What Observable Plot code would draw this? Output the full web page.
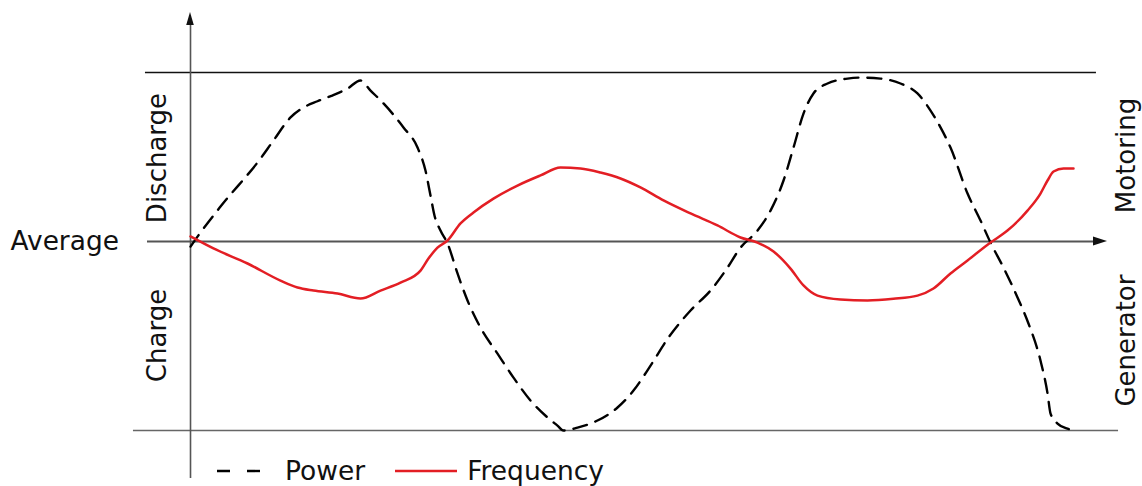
<!DOCTYPE html>
<html><head><meta charset="utf-8">
<script src="https://cdn.jsdelivr.net/npm/d3@7"></script>
<script src="https://cdn.jsdelivr.net/npm/@observablehq/plot@0.6"></script>
<style>
body{margin:0;background:#fff;font-family:"DejaVu Sans",sans-serif;}
#wrap{position:relative;width:1142px;height:486px;}
#legend{position:absolute;left:217px;top:456px;display:flex;align-items:center;font-size:26.5px;line-height:30px;color:#111;white-space:nowrap;}
#legend svg{display:block}
</style></head><body><div id="wrap"></div>
<script>
// time (0..100) and normalised level (average = 0, discharge limit = 1)
const powerT = [0,1.13,3.40,7.93,9.40,11.33,12.80,14.38,15.86,17.78,19.25,20.39,21.86,24.12,25.71,26.61,27.18,27.63,28.31,29.11,30.24,31.37,32.84,34.77,36.58,38.51,40.43,41.56,42.24,43.83,46.09,48.36,50.17,52.10,54.13,56.63,58.89,60.59,62.29,64.21,65.69,67.16,68.29,69.42,70.55,72.14,74.41,75.88,78.14,80.41,82.33,83.81,84.94,86.07,88.00,89.47,90.60,92.07,93.66,94.90,96.26,97.06,97.40,98.19,99.32,100];
const powerV = [-0.03,0.053,0.207,0.491,0.598,0.734,0.793,0.830,0.860,0.905,0.953,0.893,0.817,0.675,0.556,0.420,0.272,0.154,0.065,-0.012,-0.189,-0.349,-0.509,-0.663,-0.805,-0.941,-1.041,-1.089,-1.118,-1.101,-1.059,-0.982,-0.882,-0.734,-0.568,-0.408,-0.290,-0.172,-0.036,0.065,0.183,0.361,0.556,0.757,0.876,0.935,0.964,0.970,0.964,0.935,0.876,0.775,0.675,0.556,0.284,0.124,-0.006,-0.154,-0.331,-0.485,-0.704,-0.899,-1.018,-1.077,-1.107,-1.118];
const freqT = [0,2.60,6.46,10.19,12.12,13.93,16.65,19.25,21.52,23.78,26.05,26.95,27.97,29.11,30.58,32.05,34.31,37.03,39.64,41.90,44.17,46.43,48.70,50.96,53.57,56.63,59.68,62.29,64.21,66.03,67.95,69.42,71.01,73.61,76.67,79.61,82.33,84.14,86.07,88.00,90.60,92.52,94.79,96.26,97.06,97.74,98.87,100];
const freqV = [0.030,-0.041,-0.130,-0.231,-0.272,-0.290,-0.308,-0.337,-0.290,-0.243,-0.172,-0.101,-0.036,0.006,0.107,0.172,0.254,0.331,0.391,0.438,0.432,0.408,0.373,0.320,0.243,0.166,0.095,0.024,-0.006,-0.059,-0.160,-0.260,-0.320,-0.343,-0.349,-0.339,-0.320,-0.278,-0.189,-0.112,-0.006,0.065,0.183,0.284,0.361,0.414,0.432,0.432];

// guide lines: level, start, end
const guideNames = ["top", "average", "bottom"];
const guideLevel = [1, 0, -1.118];
const guideStart = [-5.10, -4.87, -6.46];
const guideEnd = [102.6, 103.85, 105.1];
const guideColor = ["#111", "#555", "#666"];
const guideWidth = [1.4, 2, 1.3];
const axisLow = -1.402, axisHigh = 1.355;

const sideLabels = ["Discharge", "Charge", "Motoring", "Generator"];
const sideLabelT = [-3.74, -3.74, 106.0, 106.0];
const sideLabelV = [0.494, -0.556, 0.509, -0.586];
const averageLabel = "Average";
const averageLabelT = -20.385;

const power = powerT.map((t, i) => ({t, v: powerV[i]}));
const freq = freqT.map((t, i) => ({t, v: freqV[i]}));
const guides = guideNames.map((n, i) => ({n, v: guideLevel[i], x1: guideStart[i], x2: guideEnd[i], c: guideColor[i], w: guideWidth[i]}));
const labels = sideLabels.map((s, i) => ({s, t: sideLabelT[i], v: sideLabelV[i]}));

function arrowheads(index, scales) {
  const g = d3.create("svg:g");
  const x0 = scales.x(0), yTop = scales.y(axisHigh);
  g.append("path").attr("d", `M${x0},${yTop}L${x0-3.8},${yTop+13}L${x0+3.8},${yTop+13}Z`).attr("fill", "#111");
  const xr = scales.x(guideEnd[1]), y0 = scales.y(0);
  g.append("path").attr("d", `M${xr},${y0}L${xr-14},${y0-4.5}L${xr-14},${y0+4.5}Z`).attr("fill", "#111");
  return g.node();
}

const chart = Plot.plot({
  width: 1142, height: 486,
  marginTop: 12, marginBottom: 8, marginLeft: 0, marginRight: 0,
  x: {domain: [-21.518, 107.814], axis: null},
  y: {domain: [axisLow, axisHigh], axis: null},
  style: {background: "#fff", overflow: "visible"},
  marks: [
    ...guides.map(gd => Plot.ruleY([gd], {y: "v", x1: "x1", x2: gd.n === "average" ? gd.x2 - 1.2 : "x2", stroke: gd.c, strokeWidth: gd.w})),
    Plot.ruleX([0], {y1: axisLow, y2: axisHigh - 10/169, stroke: "#555", strokeWidth: 1.6}),
    arrowheads,
    Plot.line(power, {x: "t", y: "v", stroke: "#000", strokeWidth: 2.4, strokeDasharray: "14,9", curve: "monotone-x"}),
    Plot.line(freq, {x: "t", y: "v", stroke: "#e31e24", strokeWidth: 2.5, curve: "monotone-x"}),
    Plot.text(labels, {x: "t", y: "v", text: "s", rotate: -90, fontSize: 26, fontFamily: "DejaVu Sans", fill: "#111"}),
    Plot.text([averageLabel], {x: averageLabelT, y: 0, text: d => d, textAnchor: "start", fontSize: 26.4, fontFamily: "DejaVu Sans", fill: "#111"})
  ]
});
const wrap = document.getElementById("wrap");
wrap.appendChild(chart);
const legend = document.createElement("div");
legend.id = "legend";
legend.innerHTML = `<svg width="46" height="6"><line x1="0" y1="3" x2="46" y2="3" stroke="#000" stroke-width="2.4" stroke-dasharray="13,17"/></svg>
<span style="margin-left:22px">Power</span>
<svg width="62" height="6" style="margin-left:30px"><line x1="0" y1="3" x2="62" y2="3" stroke="#e31e24" stroke-width="2.5"/></svg>
<span style="margin-left:10px">Frequency</span>`;
wrap.appendChild(legend);
</script>
</body></html>
